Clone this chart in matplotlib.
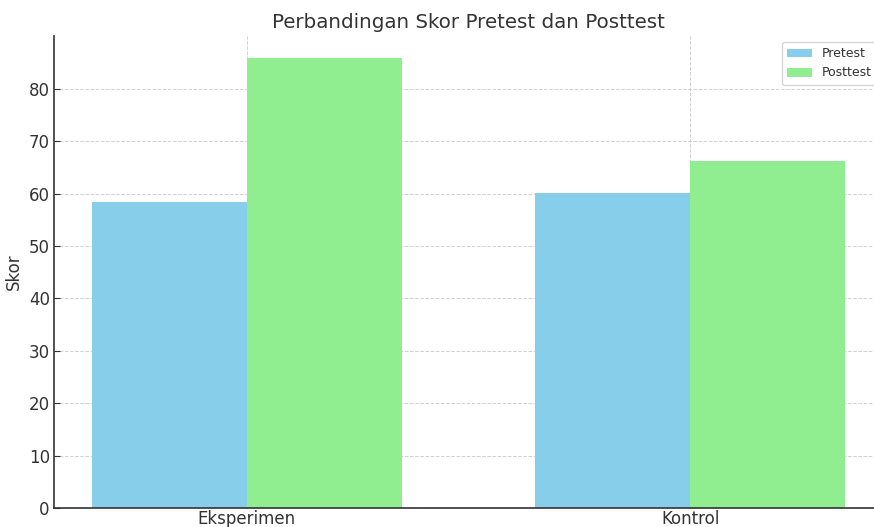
import matplotlib
matplotlib.use("Agg")
import matplotlib.pyplot as plt
import numpy as np

categories = ["Eksperimen", "Kontrol"]
pretest = [58.4, 60.1]
posttest = [85.8, 66.2]
series_labels = ["Pretest", "Posttest"]
title = "Perbandingan Skor Pretest dan Posttest"
ylabel = "Skor"

plt.rcParams['font.family'] = ['DejaVu Sans']
text_color = '#333333'

fig = plt.figure(figsize=(8.74, 5.27), dpi=100)
W, H = 874, 527
ax = fig.add_axes([54 / W, 19 / H, (883 - 54) / W, (508 - 36) / H])

x = np.arange(len(categories))
width = 0.35
ax.bar(x - width / 2, pretest, width, label=series_labels[0], color='skyblue', zorder=2)
ax.bar(x + width / 2, posttest, width, label=series_labels[1], color='lightgreen', zorder=2)

ax.set_xticks(x)
ax.set_xticklabels(categories)
ax.set_yticks(np.arange(0, 90, 10))
ax.set_ylabel(ylabel, fontsize=12, color=text_color, labelpad=4)
ax.set_title(title, fontsize=14.3, color=text_color, pad=6)
ax.tick_params(colors=text_color, labelsize=12, length=4, direction='in')
ax.tick_params(axis='x', pad=1.5)
ax.tick_params(axis='y', pad=3)
ax.grid(True, linestyle='--', color='#d0d0d0', linewidth=0.7, zorder=0)
ax.set_axisbelow(True)
for s in ['top', 'right']:
    ax.spines[s].set_visible(False)
for s in ['left', 'bottom']:
    ax.spines[s].set_color(text_color)
    ax.spines[s].set_linewidth(1.2)
leg = ax.legend(loc='upper right', fontsize=9, framealpha=0.8)
for t in leg.get_texts():
    t.set_color(text_color)

fig.savefig("out.png", dpi=100)
